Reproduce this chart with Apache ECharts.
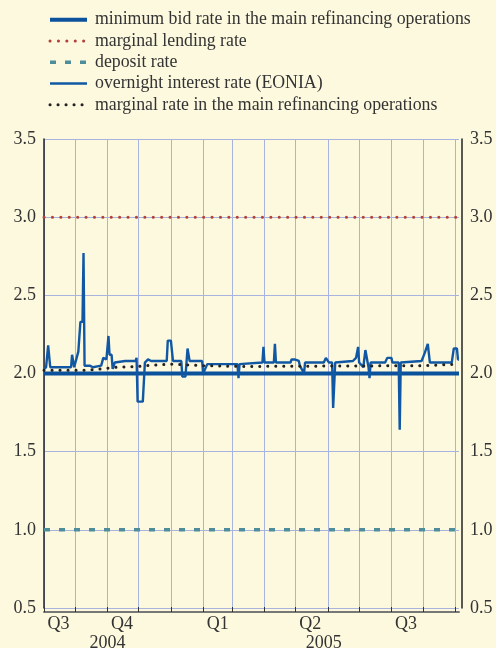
<!DOCTYPE html>
<html>
<head>
<meta charset="utf-8">
<script src="https://cdn.jsdelivr.net/npm/echarts@6/dist/echarts.min.js"></script>
<style>
  html, body { margin: 0; padding: 0; background: #fdf9df; }
  #chart { width: 496px; height: 648px; }
</style>
</head>
<body>
<div id="chart"></div>
<script>
// 数据
var seriesNames = [
  'minimum bid rate in the main refinancing operations',
  'marginal lending rate',
  'deposit rate',
  'overnight interest rate (EONIA)',
  'marginal rate in the main refinancing operations'
];
var startDate = '2004-09-01';
var endDate = '2005-10-05';

var minBidRate = [['2004-09-01', 2.0], ['2005-10-05', 2.0]];
var lendingRate = [['2004-09-01', 3.0], ['2005-10-05', 3.0]];
var depositRate = [['2004-09-01', 1.0], ['2005-10-05', 1.0]];

var eonia = [
  ['2004-09-01', 2.03], ['2004-09-03', 2.04], ['2004-09-05', 2.18], ['2004-09-07', 2.04],
  ['2004-09-27', 2.04], ['2004-09-28', 2.12], ['2004-09-30', 2.04], ['2004-10-01', 2.05],
  ['2004-10-04', 2.14], ['2004-10-06', 2.33], ['2004-10-08', 2.33], ['2004-10-09', 2.77],
  ['2004-10-10', 2.05], ['2004-10-15', 2.05], ['2004-10-18', 2.04], ['2004-10-26', 2.05],
  ['2004-10-28', 2.10], ['2004-10-31', 2.09], ['2004-11-02', 2.24], ['2004-11-03', 2.12],
  ['2004-11-05', 2.12], ['2004-11-06', 2.03], ['2004-11-08', 2.07], ['2004-11-18', 2.08],
  ['2004-11-28', 2.08], ['2004-11-29', 2.10], ['2004-11-30', 1.82], ['2004-12-05', 1.82],
  ['2004-12-07', 2.07], ['2004-12-10', 2.09], ['2004-12-13', 2.08], ['2004-12-28', 2.08],
  ['2004-12-29', 2.21], ['2005-01-01', 2.21], ['2005-01-03', 2.08], ['2005-01-11', 2.08],
  ['2005-01-12', 1.98], ['2005-01-15', 1.98], ['2005-01-17', 2.16], ['2005-01-19', 2.08],
  ['2005-01-31', 2.08], ['2005-02-01', 2.00], ['2005-02-05', 2.06], ['2005-03-06', 2.06],
  ['2005-03-07', 1.97], ['2005-03-08', 2.06], ['2005-03-30', 2.07], ['2005-03-31', 2.17],
  ['2005-04-01', 2.07], ['2005-04-10', 2.07], ['2005-04-11', 2.19], ['2005-04-12', 2.07],
  ['2005-04-26', 2.07], ['2005-04-27', 2.09], ['2005-04-30', 2.09], ['2005-05-04', 2.08],
  ['2005-05-05', 2.05], ['2005-05-09', 2.00], ['2005-05-10', 2.07], ['2005-05-28', 2.07],
  ['2005-05-30', 2.10], ['2005-06-02', 2.07], ['2005-06-05', 2.07], ['2005-06-06', 1.78],
  ['2005-06-08', 2.07], ['2005-06-25', 2.08], ['2005-06-28', 2.10], ['2005-06-30', 2.17],
  ['2005-07-01', 2.07], ['2005-07-05', 2.04], ['2005-07-07', 2.15], ['2005-07-10', 2.04],
  ['2005-07-11', 1.97], ['2005-07-12', 2.07], ['2005-07-26', 2.07], ['2005-07-28', 2.10],
  ['2005-08-01', 2.10], ['2005-08-02', 2.07], ['2005-08-08', 2.07], ['2005-08-09', 1.64],
  ['2005-08-10', 2.07], ['2005-08-30', 2.08], ['2005-09-02', 2.13], ['2005-09-05', 2.19],
  ['2005-09-07', 2.07], ['2005-09-28', 2.07], ['2005-09-30', 2.16], ['2005-10-03', 2.16],
  ['2005-10-04', 2.09], ['2005-10-05', 2.09]
];

var marginalRate = [
  ['2004-09-01', 2.02], ['2004-10-12', 2.03], ['2004-10-27', 2.04], ['2004-11-10', 2.045],
  ['2004-12-01', 2.05], ['2004-12-08', 2.06], ['2005-01-01', 2.05], ['2005-02-01', 2.045],
  ['2005-03-09', 2.05], ['2005-09-01', 2.06], ['2005-10-05', 2.06]
];

// 刻度
var monthStarts = [
  '2004-09-01', '2004-10-01', '2004-11-01', '2004-12-01', '2005-01-01', '2005-02-01',
  '2005-03-01', '2005-04-01', '2005-05-01', '2005-06-01', '2005-07-01', '2005-08-01',
  '2005-09-01', '2005-10-01'
];
var quarterDates = ['2004-09-15', '2004-11-15', '2005-02-15', '2005-05-15', '2005-08-15'];
var quarterLabels = ['Q3', 'Q4', 'Q1', 'Q2', 'Q3'];
var yearDates = ['2004-11-01', '2005-05-28'];
var yearLabels = ['2004', '2005'];
var yTicks = ['0.5', '1.0', '1.5', '2.0', '2.5', '3.0', '3.5'];

function toTime(s) {
  var p = s.split('-');
  return new Date(+p[0], +p[1] - 1, +p[2]).getTime();
}
function toPoints(list) {
  return list.map(function (d) { return [toTime(d[0]), d[1]]; });
}
function pickLabel(dates, labels) {
  var times = dates.map(toTime);
  return function (value) {
    for (var i = 0; i < times.length; i++) {
      if (Math.abs(times[i] - value) < 43200000) return labels[i];
    }
    return '';
  };
}

var font = 'Liberation Serif';
var gridColor = '#a9b3df';
var textColor = '#333';

// 线型
var styles = {
  minBid: { color: '#0b519c', width: 4, type: 'solid' },
  lending: { color: '#b5403a', width: 3, type: [0.1, 8.3], cap: 'round' },
  deposit: { color: '#4f8d9c', width: 3.5, type: [6, 9] },
  eonia: { color: '#1158a4', width: 2.4, type: 'solid' },
  marginal: { color: '#222', width: 3, type: [0.1, 7.9], cap: 'round' }
};
var legendStyles = [styles.minBid, styles.lending, styles.deposit, styles.eonia, styles.marginal];

var myChart = echarts.init(document.getElementById('chart'));

var yMin = parseFloat(yTicks[0]);
var yMax = parseFloat(yTicks[yTicks.length - 1]);

function yAxisCfg(pos, offset) {
  return {
    type: 'value',
    position: pos,
    offset: offset,
    min: yMin,
    max: yMax,
    interval: 0.5,
    axisLine: { show: true, lineStyle: { color: '#222', width: 1.5 } },
    axisTick: { show: false },
    axisLabel: {
      color: textColor, fontFamily: font, fontSize: 18, margin: 8,
      formatter: function (v) { return v.toFixed(1); }
    },
    splitLine: { show: pos === 'left', lineStyle: { color: gridColor, width: 1 } }
  };
}

var option = {
  backgroundColor: '#fdf9df',
  animation: false,
  legend: {
    orient: 'vertical',
    left: 43,
    top: 4,
    itemWidth: 37,
    itemHeight: 14,
    itemGap: 0,
    itemStyle: { opacity: 0 },
    data: seriesNames.map(function (n, i) {
      return { name: n, lineStyle: legendStyles[i], itemStyle: { opacity: 0 } };
    }),
    textStyle: { color: textColor, fontFamily: font, fontSize: 17.8, lineHeight: 21.3, padding: [0, 0, 0, 3] }
  },
  // 关闭 v6 的外边界自动收缩
  grid: { left: 44, right: 37, top: 139, bottom: 40, containLabel: false, outerBoundsMode: 'none' },
  xAxis: [{
    type: 'value',
    min: toTime(startDate),
    max: toTime(endDate),
    offset: 4,
    axisLine: { show: true, lineStyle: { color: '#777', width: 2 } },
    axisTick: { show: true, inside: true, length: 5, customValues: monthStarts.map(toTime), lineStyle: { color: '#333', width: 1 } },
    splitLine: { show: true, lineStyle: { color: gridColor, width: 1 } },
    axisLabel: {
      color: textColor, fontFamily: font, fontSize: 18, margin: 3,
      customValues: quarterDates.map(toTime),
      formatter: pickLabel(quarterDates, quarterLabels)
    }
  }, {
    type: 'value',
    min: toTime(startDate),
    max: toTime(endDate),
    position: 'bottom',
    offset: 22,
    axisLine: { show: false },
    axisTick: { show: false },
    splitLine: { show: false },
    axisLabel: {
      color: textColor, fontFamily: font, fontSize: 18, margin: 4,
      customValues: yearDates.map(toTime),
      formatter: pickLabel(yearDates, yearLabels)
    }
  }],
  yAxis: [yAxisCfg('left', 0), yAxisCfg('right', 3)],
  series: [{
    name: seriesNames[2],
    type: 'line',
    symbol: 'none',
    data: toPoints(depositRate),
    color: styles.deposit.color,
    lineStyle: styles.deposit
  }, {
    name: seriesNames[1],
    type: 'line',
    symbol: 'none',
    data: toPoints(lendingRate),
    color: styles.lending.color,
    lineStyle: styles.lending
  }, {
    name: seriesNames[0],
    type: 'line',
    symbol: 'none',
    data: toPoints(minBidRate),
    color: styles.minBid.color,
    lineStyle: styles.minBid
  }, {
    name: seriesNames[3],
    type: 'line',
    symbol: 'none',
    data: toPoints(eonia),
    color: styles.eonia.color,
    lineStyle: styles.eonia
  }, {
    name: seriesNames[4],
    type: 'line',
    symbol: 'none',
    step: 'end',
    data: toPoints(marginalRate),
    color: styles.marginal.color,
    lineStyle: styles.marginal
  }]
};

myChart.setOption(option);
</script>
</body>
</html>
